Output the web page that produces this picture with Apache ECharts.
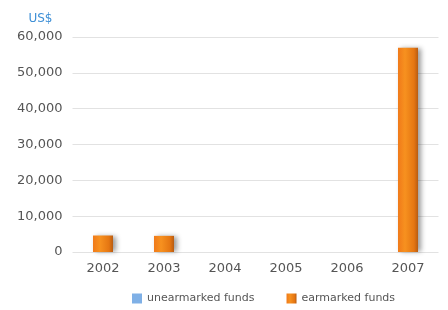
<!DOCTYPE html>
<html><head><meta charset="utf-8">
<script src="https://cdn.jsdelivr.net/npm/echarts@6/dist/echarts.min.js"></script>
<style>html,body{margin:0;padding:0;background:#fff}#c{width:448px;height:310px}</style>
</head><body><div id="c"></div>
<script>
const categories = ['2002','2003','2004','2005','2006','2007'];
const unearmarked = [0,0,0,0,0,0];
const earmarked = [4600,4500,0,0,0,57000];
const yTicks = {min:0, max:60000, interval:10000};
const seriesNames = ['unearmarked funds','earmarked funds'];

const chart = echarts.init(document.getElementById('c'), null, {renderer:'canvas'});
const orange = new echarts.graphic.LinearGradient(0,0,1,0,[
  {offset:0,color:'#f07a1a'},{offset:0.35,color:'#f7911f'},{offset:0.8,color:'#e57612'},{offset:1,color:'#b85c12'}]);
chart.setOption({
  animation:false,
  textStyle:{fontFamily:'DejaVu Sans'},
  grid:{left:72.5,right:9.5,top:37,bottom:58},
  legend:{bottom:1,left:127,itemWidth:10,itemHeight:10,itemGap:32,
    textStyle:{color:'#555',fontSize:11,fontFamily:'DejaVu Sans'},
    data:[{name:seriesNames[0],icon:'rect'},{name:seriesNames[1],icon:'rect'}]},
  xAxis:{type:'category',data:categories,
    axisLine:{show:false},axisTick:{show:false},
    axisLabel:{color:'#555',fontSize:13,margin:10}},
  yAxis:{type:'value',min:yTicks.min,max:yTicks.max,interval:yTicks.interval,
    name:'US$',nameLocation:'end',nameGap:12,
    nameTextStyle:{color:'#3d8fd6',fontSize:12,align:'right',padding:[0,20,0,0]},
    axisLine:{show:false},axisTick:{show:false},
    splitLine:{lineStyle:{color:'#e2e2e2'}},
    axisLabel:{color:'#555',fontSize:13,margin:10,
      formatter:v=>v.toLocaleString('en-US')}},
  series:[
    {name:seriesNames[0],type:'bar',data:unearmarked,barWidth:20,barGap:'-100%',
     itemStyle:{color:'#7fb0e6'}},
    {name:seriesNames[1],type:'bar',data:earmarked,barWidth:20,
     itemStyle:{color:orange,shadowColor:'rgba(0,0,0,0.4)',shadowBlur:5,shadowOffsetX:3,shadowOffsetY:0}}
  ]
});
</script></body></html>
